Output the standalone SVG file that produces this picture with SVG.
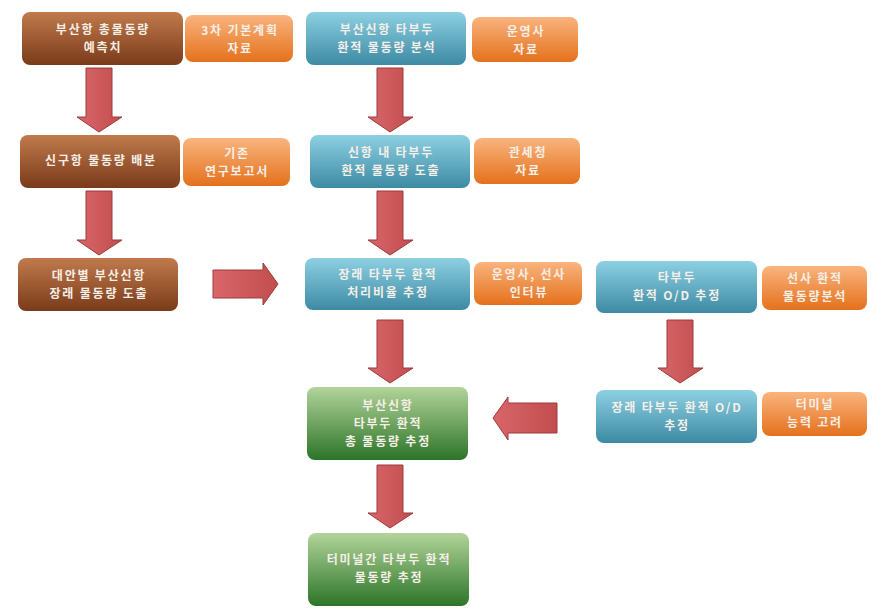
<svg xmlns="http://www.w3.org/2000/svg" width="893" height="613" viewBox="0 0 893 613">
<defs>
<linearGradient id="gBrown" x1="0" y1="0" x2="0" y2="1"><stop offset="0" stop-color="#c07a4c"/><stop offset="1" stop-color="#7a3b1a"/></linearGradient>
<linearGradient id="gBlue" x1="0" y1="0" x2="0" y2="1"><stop offset="0" stop-color="#8dd0e2"/><stop offset="1" stop-color="#3d8aa4"/></linearGradient>
<linearGradient id="gOrange" x1="0" y1="0" x2="0" y2="1"><stop offset="0" stop-color="#f9b47e"/><stop offset="1" stop-color="#e4711c"/></linearGradient>
<linearGradient id="gGreen" x1="0" y1="0" x2="0" y2="1"><stop offset="0" stop-color="#b2d49a"/><stop offset="1" stop-color="#2c7428"/></linearGradient>
<linearGradient id="gArrow" x1="0" y1="0" x2="1" y2="0"><stop offset="0" stop-color="#d86668"/><stop offset="1" stop-color="#c24d4f"/></linearGradient>
</defs>
<style>
rect.n{rx:8px;ry:8px}
.brown{fill:url(#gBrown)}
.blue{fill:url(#gBlue)}
.orange{fill:url(#gOrange)}
.green{fill:url(#gGreen)}
text{font-family:"Noto Sans CJK KR","Noto Sans",sans-serif;font-size:12px;font-weight:bold;letter-spacing:1.8px;fill:#f6efe8;text-anchor:middle}
.arr{fill:url(#gArrow);stroke:#9c3a3c;stroke-width:1}
</style>
<rect width="893" height="613" fill="#ffffff"/>

<g id="connectors">
<polygon class="arr" points="86,68 112,68 112,117 122,117 99,132 77,117 86,117"/>
<polygon class="arr" points="86,191 112,191 112,240 122,240 99,255 77,240 86,240"/>
<polygon class="arr" points="377,68 403,68 403,117 413,117 390,132 368,117 377,117"/>
<polygon class="arr" points="377,191 403,191 403,240 413,240 390,255 368,240 377,240"/>
<polygon class="arr" points="377,320 403,320 403,368 413,368 390,383 368,368 377,368"/>
<polygon class="arr" points="667,320 693,320 693,368 703,368 680,383 658,368 667,368"/>
<polygon class="arr" points="377,465 403,465 403,513 413,513 390,528 368,513 377,513"/>
<polygon class="arr" points="213,270 263,270 263,263 278,284 263,305 263,298 213,298"/>
<polygon class="arr" points="557,403 508,403 508,397 493,418 508,440 508,433 557,433"/>
</g>

<g id="n1"><rect class="n brown" x="22" y="12" width="161" height="53"/><text x="103" y="34">부산항 총물동량</text><text x="103" y="52">예측치</text></g>
<g id="s1"><rect class="n orange" x="185" y="15" width="108" height="47"/><text x="240" y="35">3차 기본계획</text><text x="240" y="53">자료</text></g>
<g id="n2"><rect class="n blue" x="306" y="12" width="160" height="53"/><text x="387" y="34">부산신항 타부두</text><text x="387" y="52">환적 물동량 분석</text></g>
<g id="s2"><rect class="n orange" x="472" y="17" width="106" height="45"/><text x="526" y="36">운영사</text><text x="526" y="54">자료</text></g>

<g id="n3"><rect class="n brown" x="20" y="135" width="160" height="53"/><text x="101" y="165">신구항 물동량 배분</text></g>
<g id="s3"><rect class="n orange" x="183" y="138" width="107" height="48"/><text x="237" y="158">기존</text><text x="237" y="176">연구보고서</text></g>
<g id="n4"><rect class="n blue" x="310" y="135" width="160" height="53"/><text x="391" y="157">신항 내 타부두</text><text x="391" y="175">환적 물동량 도출</text></g>
<g id="s4"><rect class="n orange" x="474" y="138" width="106" height="46"/><text x="528" y="157">관세청</text><text x="528" y="175">자료</text></g>

<g id="n5"><rect class="n brown" x="18" y="258" width="160" height="53"/><text x="99" y="280">대안별 부산신항</text><text x="99" y="298">장래 물동량  도출</text></g>
<g id="n6"><rect class="n blue" x="305" y="258" width="165" height="52"/><text x="388" y="279">장래 타부두 환적</text><text x="388" y="297">처리비율 추정</text></g>
<g id="s6"><rect class="n orange" x="474" y="262" width="108" height="43"/><text x="529" y="279">운영사, 선사</text><text x="529" y="297">인터뷰</text></g>
<g id="n7"><rect class="n blue" x="596" y="261" width="161" height="52"/><text x="677" y="282">타부두</text><text x="677" y="300">환적 O/D 추정</text></g>
<g id="s7"><rect class="n orange" x="762" y="266" width="105" height="44"/><text x="815" y="283">선사 환적</text><text x="815" y="301">물동량분석</text></g>

<g id="n8"><rect class="n green" x="307" y="387" width="161" height="73"/><text x="388" y="410">부산신항</text><text x="388" y="428">타부두 환적</text><text x="388" y="446">총 물동량 추정</text></g>
<g id="n9"><rect class="n blue" x="596" y="390" width="161" height="53"/><text x="677" y="412">장래 타부두 환적 O/D</text><text x="677" y="430">추정</text></g>
<g id="s9"><rect class="n orange" x="762" y="392" width="105" height="44"/><text x="815" y="409">터미널</text><text x="815" y="427">능력 고려</text></g>

<g id="n10"><rect class="n green" x="308" y="533" width="161" height="73"/><text x="389" y="564">터미널간 타부두 환적</text><text x="389" y="582">물동량 추정</text></g>
</svg>
